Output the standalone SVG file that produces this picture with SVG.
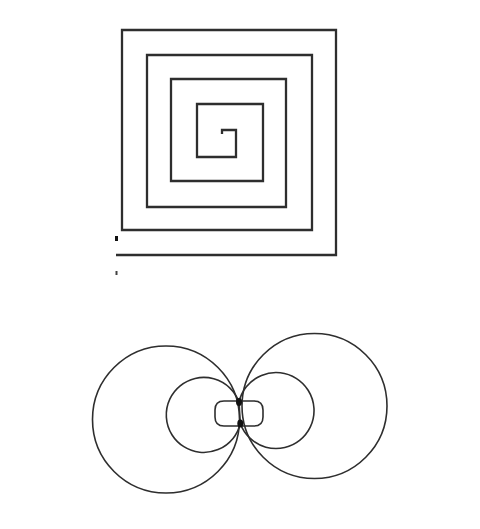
<svg xmlns="http://www.w3.org/2000/svg" width="480" height="529" viewBox="0 0 480 529">
<style>
.ln{fill:none;stroke:#2e2e2e;stroke-linejoin:miter}
.sp{stroke-width:2.3}
.fl{stroke-width:1.6}
.dot{fill:#111}
</style>
<rect width="480" height="529" fill="#fff"/>
<g id="spiral">
<path class="ln sp" d="M116,255 H336 V30 H122 V230 H312 V55 H147 V207 H286 V79 H171 V181 H263 V104 H197 V157 H236 V130 H222 V134"/>
<rect class="dot" x="115" y="236" width="3" height="5"/>
<rect class="dot" x="115.5" y="271" width="2" height="4" fill-opacity="0.8"/>
</g>
<g id="field">
<circle class="ln fl" cx="166" cy="419.5" r="73.5"/>
<circle class="ln fl" cx="314.5" cy="406" r="72.5"/>
<path class="ln fl" d="M239,402 A37.5,37.5 0 1 0 240.3,423.5"/>
<path class="ln fl" d="M239,402 A38,38 0 1 1 240.3,423.5"/>
<path class="ln fl" d="M239,402 L240.3,423.5"/>
<path class="ln fl" d="M239,401 H224 Q215,401 215,410 V417 Q215,426 224,426 H240"/>
<path class="ln fl" d="M239,401 H254 Q263,401 263,410 V417 Q263,426 254,426 H240"/>
<ellipse class="dot" cx="239" cy="402" rx="3" ry="4"/>
<ellipse class="dot" cx="240.3" cy="423.5" rx="3" ry="4"/>
</g>
</svg>
